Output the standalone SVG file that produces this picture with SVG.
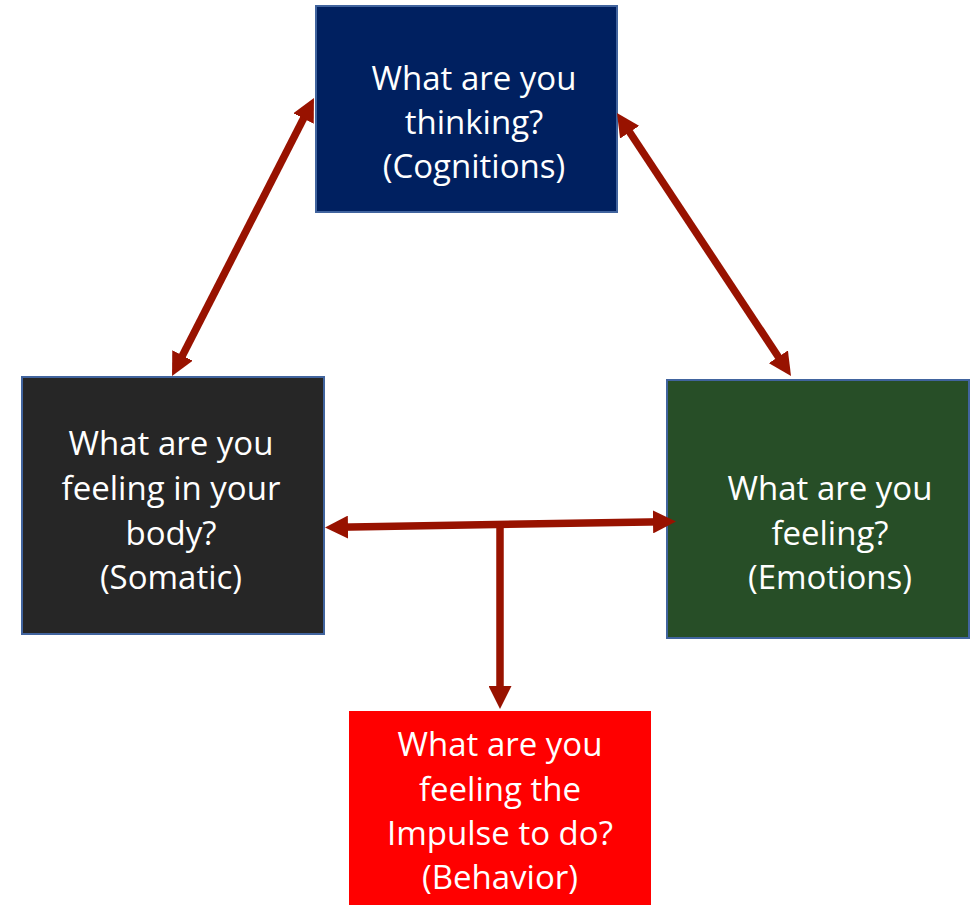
<svg xmlns="http://www.w3.org/2000/svg" width="976" height="907" viewBox="0 0 976 907">
<style>
.box{stroke:#41649E;stroke-width:2}
.t{font-family:"Open Sans","Liberation Sans",sans-serif;font-size:33px;fill:#FFFFFF;text-anchor:middle}
.c{fill:none;stroke:#981200;stroke-width:7.5}
</style>
<defs>
<marker id="ah" viewBox="0 0 23 23" refX="11" refY="11.5" markerWidth="23" markerHeight="23" markerUnits="userSpaceOnUse" orient="auto-start-reverse">
<path d="M0,0 L23,11.5 L0,23 z" fill="#981200"/>
</marker>
</defs>
<rect width="976" height="907" fill="#FFFFFF"/>
<g id="cognitions">
<rect class="box" x="316" y="6" width="301" height="206" fill="#002060"/>
<text class="t" x="474" y="90">What are you</text>
<text class="t" x="474" y="134">thinking?</text>
<text class="t" x="474" y="178">(Cognitions)</text>
</g>
<g id="somatic">
<rect class="box" x="22" y="377" width="302" height="257" fill="#262626"/>
<text class="t" x="171" y="455">What are you</text>
<text class="t" x="171" y="500">feeling in your</text>
<text class="t" x="171" y="545">body?</text>
<text class="t" x="171" y="589">(Somatic)</text>
</g>
<g id="emotions">
<rect class="box" x="667" y="380" width="302" height="258" fill="#274E27"/>
<text class="t" x="830" y="500">What are you</text>
<text class="t" x="830" y="545">feeling?</text>
<text class="t" x="830" y="589">(Emotions)</text>
</g>
<g id="behavior">
<rect x="349" y="711" width="302" height="194" fill="#FF0000"/>
<text class="t" x="500" y="756">What are you</text>
<text class="t" x="500" y="801">feeling the</text>
<text class="t" x="500" y="845">Impulse to do?</text>
<text class="t" x="500" y="889">(Behavior)</text>
</g>
<g id="connectors">
<path class="c" d="M308.5,108.7 L177.5,365.3" marker-start="url(#ah)" marker-end="url(#ah)"/>
<path class="c" d="M623.6,123 L784.4,366" marker-start="url(#ah)" marker-end="url(#ah)"/>
<path class="c" d="M337,527.3 L664,521.7" marker-start="url(#ah)" marker-end="url(#ah)"/>
<path class="c" d="M500,522 L500,697" marker-end="url(#ah)"/>
</g>
</svg>
